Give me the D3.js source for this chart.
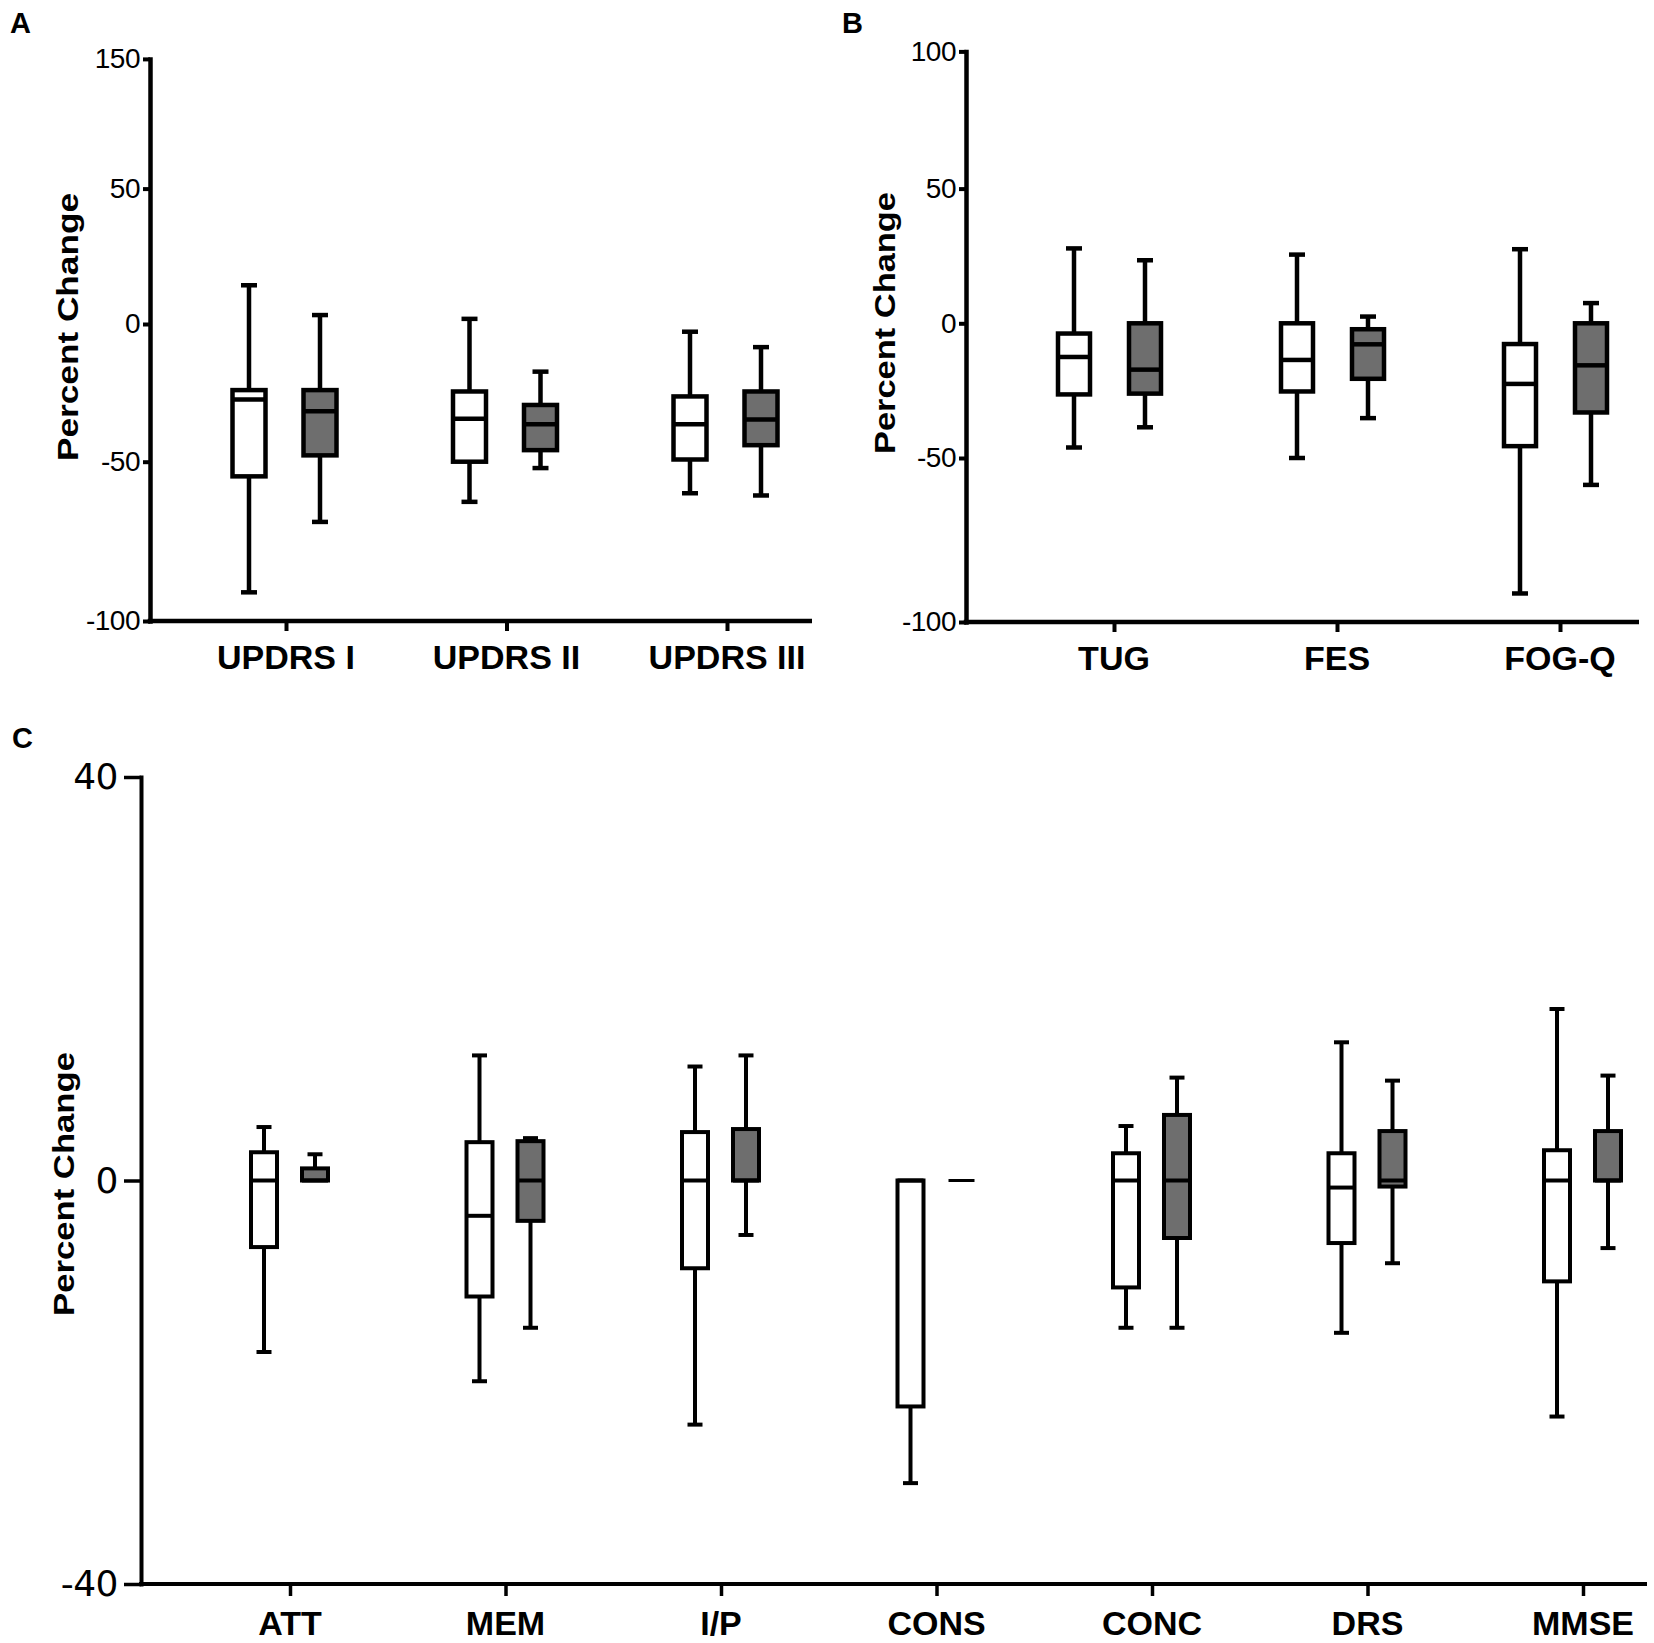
<!DOCTYPE html>
<html>
<head>
<meta charset="utf-8">
<script src="https://cdn.jsdelivr.net/npm/d3@7"></script>
<style>
	body { margin: 0; background: #fff; }
	svg { display: block; }
	text { font-family: "Liberation Sans", Arial, sans-serif; fill: #000; }
</style>
</head>
<body>
<svg id="chart" width="1654" height="1643"></svg>
<script>

// box values are [min, q1, median, q3, max]
var seriesKeys = ['open', 'shaded'];

var motorCategories = ['UPDRS I', 'UPDRS II', 'UPDRS III'];
var motorTicks = [-100, -50, 0, 50, 150];
var motorOpen = [
	[-91, -54.6, -27.4, -24, 14.3],
	[-62.6, -50, -34.4, -24.5, 1.9],
	[-59.9, -49.2, -36.4, -26.3, -2.8]
];
var motorShaded = [
	[-68.9, -47.7, -31.7, -24, 3.3],
	[-52, -45.8, -36.4, -29.4, -17.3],
	[-60.6, -44, -34.7, -24.5, -8.4]
];

var mobilityCategories = ['TUG', 'FES', 'FOG-Q'];
var mobilityTicks = [-100, -50, 0, 50, 100];
var mobilityOpen = [
	[-46.1, -26.4, -12.5, -3.8, 27.8],
	[-50, -25.3, -13.6, 0, 25.5],
	[-91.3, -45.6, -22.5, -7.7, 27.5]
];
var mobilityShaded = [
	[-38.6, -26.1, -17.2, 0, 23.4],
	[-35.2, -20.6, -7.8, -2.2, 2.5],
	[-58.2, -33.1, -15.6, 0, 7.5]
];

var cognitiveCategories = ['ATT', 'MEM', 'I/P', 'CONS', 'CONC', 'DRS', 'MMSE'];
var cognitiveTicks = [-40, 0, 40];
var cognitiveOpen = [
	[-17, -6.6, 0, 2.8, 5.3],
	[-19.9, -11.5, -3.5, 3.8, 12.4],
	[-24.2, -8.7, 0, 4.8, 11.3],
	[-30, -22.4, 0, 0, 0],
	[-14.6, -10.6, 0, 2.7, 5.4],
	[-15.1, -6.2, -0.7, 2.7, 13.7],
	[-23.4, -10, 0, 3, 17]
];
var cognitiveShaded = [
	[0, 0, 0, 1.2, 2.6],
	[-14.6, -4, 0, 3.9, 4.2],
	[-5.4, 0, 0, 5.1, 12.4],
	[0, 0, 0, 0, 0],
	[-14.6, -5.7, 0, 6.5, 10.2],
	[-8.2, -0.6, 0, 4.9, 9.9],
	[-6.7, 0, 0, 4.9, 10.4]
];

var svg = d3.select('#chart');

var panels = [
	{
		letter: 'A', letterX: 10, letterY: 33,
		categories: motorCategories, ticks: motorTicks,
		open: motorOpen, shaded: motorShaded,
		// the reference axis is segmented, so the scale is piecewise
		yRange: [621, 461.7, 324, 188.6, 58.9],
		axisX: 150, xFirst: 286, xLast: 727, xEnd: 812,
		offsets: [-37, 34],
		boxW: 33, capW: 16, stroke: 4.5,
		tickFont: '28px', tickFamily: '"Liberation Sans", Arial, sans-serif', tickSize: 7, tickPad: 3,
		labelY: 669, xTick: 10,
		titleX: 78, titleY: 327, titleLen: 268
	},
	{
		letter: 'B', letterX: 842, letterY: 33,
		categories: mobilityCategories, ticks: mobilityTicks,
		open: mobilityOpen, shaded: mobilityShaded,
		yRange: [622, 458, 323.3, 188.6, 51.4],
		axisX: 966, xFirst: 1114, xLast: 1560, xEnd: 1639,
		offsets: [-40, 31],
		boxW: 32, capW: 16, stroke: 4.5,
		tickFont: '28px', tickFamily: '"Liberation Sans", Arial, sans-serif', tickSize: 7, tickPad: 3,
		labelY: 670, xTick: 10,
		titleX: 895, titleY: 323, titleLen: 262
	},
	{
		letter: 'C', letterX: 12, letterY: 748,
		categories: cognitiveCategories, ticks: cognitiveTicks,
		open: cognitiveOpen, shaded: cognitiveShaded,
		yRange: [1584, 1180.5, 777],
		axisX: 141, xFirst: 290, xLast: 1583, xEnd: 1647,
		offsets: [-26, 25],
		boxW: 26, capW: 15, stroke: 4,
		tickFont: '36px', tickFamily: '"DejaVu Sans", sans-serif', tickSize: 17, tickPad: 6,
		labelY: 1635, xTick: 12,
		titleX: 74, titleY: 1184, titleLen: 264
	}
];

panels.forEach(function (p) {

	var g = svg.append('g');

	var y = d3.scaleLinear().domain(p.ticks).range(p.yRange);
	var x = d3.scalePoint().domain(p.categories).range([p.xFirst, p.xLast]);
	var side = d3.scalePoint().domain(seriesKeys).range(p.offsets);
	var baseY = y(p.ticks[0]);

	// y axis
	var yAxis = g.append('g')
		.attr('transform', 'translate(' + p.axisX + ',0)')
		.call(d3.axisLeft(y).tickValues(p.ticks).tickSize(p.tickSize).tickSizeOuter(0)
			.tickPadding(p.tickPad).tickFormat(function (d) { return String(d); }));
	yAxis.select('.domain').attr('stroke-width', p.stroke).attr('stroke-linecap', 'square');
	yAxis.selectAll('.tick line').attr('stroke-width', p.stroke - 0.5);
	yAxis.selectAll('.tick text')
		.style('font-family', p.tickFamily)
		.style('font-size', p.tickFont)
		.style('letter-spacing', '-0.5px')
		.attr('fill', '#000');

	// x axis
	var xAxis = g.append('g')
		.attr('transform', 'translate(0,' + baseY + ')')
		.call(d3.axisBottom(x).tickSize(p.xTick).tickSizeOuter(0).tickFormat(''));
	xAxis.select('.domain').remove();
	xAxis.selectAll('.tick line').attr('stroke-width', p.stroke - 0.5);
	g.append('line')
		.attr('x1', p.axisX - p.stroke / 2).attr('x2', p.xEnd)
		.attr('y1', baseY).attr('y2', baseY)
		.attr('stroke', '#000').attr('stroke-width', p.stroke);

	g.selectAll('.xlabel')
		.data(p.categories)
		.enter().append('text')
		.attr('class', 'xlabel')
		.attr('x', function (d) { return x(d); })
		.attr('y', p.labelY)
		.attr('text-anchor', 'middle')
		.style('font-size', '34px')
		.style('font-weight', 'bold')
		.text(function (d) { return d; });

	// boxes
	var boxes = [];
	p.categories.forEach(function (c, i) {
		boxes.push({ cat: c, key: 'open', v: p.open[i] });
		boxes.push({ cat: c, key: 'shaded', v: p.shaded[i] });
	});

	var box = g.selectAll('.box')
		.data(boxes)
		.enter().append('g')
		.attr('class', 'box')
		.attr('transform', function (d) { return 'translate(' + (x(d.cat) + side(d.key)) + ',0)'; });

	box.filter(function (d) { return d.v[4] > d.v[3]; })
		.append('line')
		.attr('y1', function (d) { return y(d.v[4]); })
		.attr('y2', function (d) { return y(d.v[3]); })
		.attr('stroke', '#000').attr('stroke-width', p.stroke);
	box.filter(function (d) { return d.v[0] < d.v[1]; })
		.append('line')
		.attr('y1', function (d) { return y(d.v[1]); })
		.attr('y2', function (d) { return y(d.v[0]); })
		.attr('stroke', '#000').attr('stroke-width', p.stroke);

	// caps
	box.filter(function (d) { return d.v[4] > d.v[3]; })
		.append('line')
		.attr('x1', -p.capW / 2).attr('x2', p.capW / 2)
		.attr('y1', function (d) { return y(d.v[4]); })
		.attr('y2', function (d) { return y(d.v[4]); })
		.attr('stroke', '#000').attr('stroke-width', p.stroke);
	box.filter(function (d) { return d.v[0] < d.v[1]; })
		.append('line')
		.attr('x1', -p.capW / 2).attr('x2', p.capW / 2)
		.attr('y1', function (d) { return y(d.v[0]); })
		.attr('y2', function (d) { return y(d.v[0]); })
		.attr('stroke', '#000').attr('stroke-width', p.stroke);

	box.filter(function (d) { return d.v[3] > d.v[1]; })
		.append('rect')
		.attr('x', -p.boxW / 2)
		.attr('width', p.boxW)
		.attr('y', function (d) { return y(d.v[3]); })
		.attr('height', function (d) { return y(d.v[1]) - y(d.v[3]); })
		.attr('fill', function (d) { return d.key === 'open' ? '#fff' : '#6e6e6e'; })
		.attr('stroke', '#000')
		.attr('stroke-width', p.stroke);

	// median (a flat box collapses to this line)
	box.append('line')
		.attr('x1', -p.boxW / 2).attr('x2', p.boxW / 2)
		.attr('y1', function (d) { return y(d.v[2]); })
		.attr('y2', function (d) { return y(d.v[2]); })
		.attr('stroke', '#000')
		.attr('stroke-width', function (d) { return d.v[3] > d.v[1] ? p.stroke : p.stroke - 1; });

	// y title and panel letter
	g.append('text')
		.attr('transform', 'translate(' + p.titleX + ',' + p.titleY + ') rotate(-90)')
		.attr('text-anchor', 'middle')
		.attr('textLength', p.titleLen)
		.attr('lengthAdjust', 'spacingAndGlyphs')
		.style('font-size', '29px')
		.style('font-weight', 'bold')
		.text('Percent Change');

	g.append('text')
		.attr('x', p.letterX)
		.attr('y', p.letterY)
		.style('font-size', '29px')
		.style('font-weight', 'bold')
		.text(p.letter);
});
</script>
</body>
</html>
